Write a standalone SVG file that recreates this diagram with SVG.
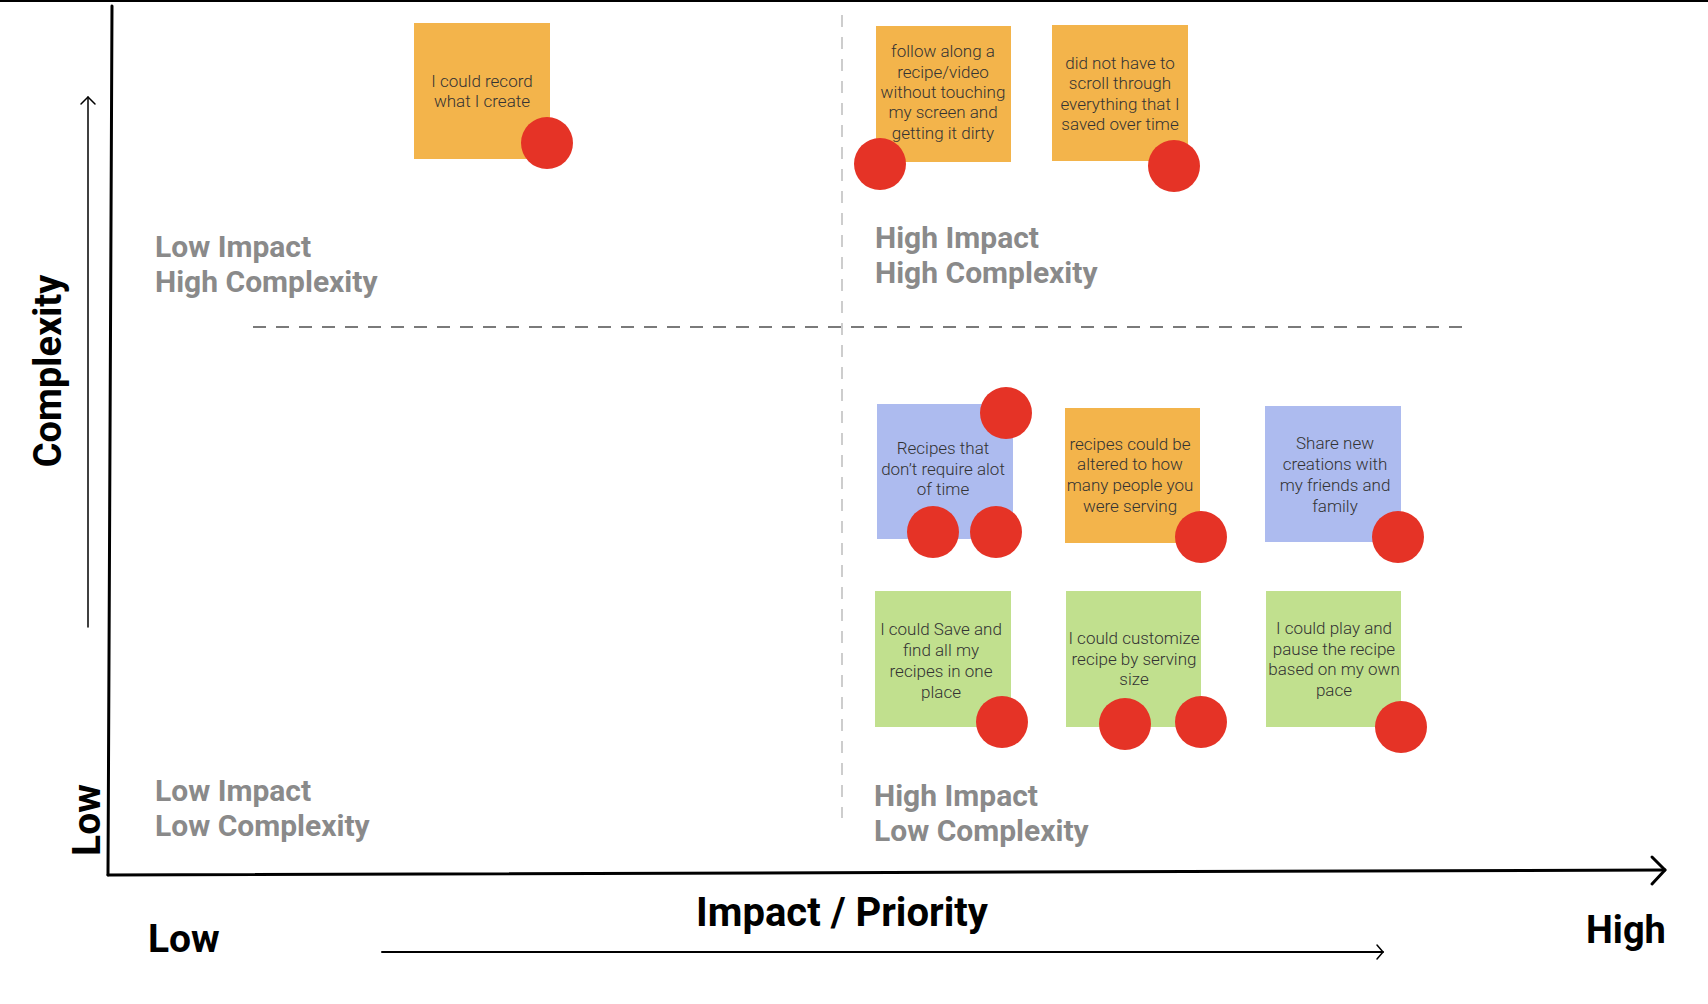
<svg xmlns="http://www.w3.org/2000/svg" width="1708" height="1004" viewBox="0 0 1708 1004">
<style>
.axis{stroke:#000;fill:none;stroke-linecap:round;stroke-linejoin:round}
.quad{font-family:Roboto,"Liberation Sans",sans-serif;font-weight:700;font-size:30px;fill:#8a8a8a}
.big{font-family:Roboto,"Liberation Sans",sans-serif;font-weight:700;fill:#000}
.note text{font-family:Roboto,"Liberation Sans",sans-serif;font-weight:300;font-size:17px;fill:#333;text-anchor:middle}
.orange{fill:#f3b44b}
.blue{fill:#adbbef}
.green{fill:#c1e08e}
.dot{fill:#e53326}
</style>
<rect width="1708" height="1004" fill="#fff"/>
<line x1="0" y1="1" x2="1708" y2="1" stroke="#000" stroke-width="2"/>

<g id="axes">
  <line class="axis" x1="112" y1="6" x2="108" y2="875" stroke-width="3"/>
  <line class="axis" x1="108" y1="875" x2="1665" y2="870" stroke-width="3"/>
  <polyline class="axis" points="1652,857 1665,870 1652,884" stroke-width="3"/>
  <line class="axis" x1="88" y1="627" x2="88" y2="97" stroke-width="1.5"/>
  <polyline class="axis" points="81,104 88,97 95,104" stroke-width="1.5"/>
  <line class="axis" x1="382" y1="952" x2="1383" y2="952" stroke-width="2"/>
  <polyline class="axis" points="1377,945 1383,952 1377,959" stroke-width="1.5"/>
</g>

<g id="dividers">
  <line x1="253" y1="327" x2="1467" y2="327" stroke="#7a7a7a" stroke-width="2" stroke-dasharray="13 10"/>
  <line x1="842" y1="15" x2="842" y2="818" stroke="#bdbdbd" stroke-width="1.5" stroke-dasharray="12 10"/>
</g>

<g id="labels">
  <text class="big" font-size="38" transform="translate(61,371) rotate(-90)" text-anchor="middle">Complexity</text>
  <text class="big" font-size="39" transform="translate(100,820) rotate(-90)" text-anchor="middle">Low</text>
  <text class="big" font-size="40" x="842" y="926" text-anchor="middle">Impact / Priority</text>
  <text class="big" font-size="39" x="148" y="952">Low</text>
  <text class="big" font-size="38" x="1586" y="943">High</text>
  <text class="quad" x="155"><tspan x="155" y="257">Low Impact</tspan><tspan x="155" y="292">High Complexity</tspan></text>
  <text class="quad" x="875"><tspan x="875" y="248">High Impact</tspan><tspan x="875" y="283">High Complexity</tspan></text>
  <text class="quad" x="155"><tspan x="155" y="801">Low Impact</tspan><tspan x="155" y="836">Low Complexity</tspan></text>
  <text class="quad" x="874"><tspan x="874" y="806">High Impact</tspan><tspan x="874" y="841">Low Complexity</tspan></text>
</g>

<g id="note-record" class="note">
  <rect class="orange" x="414" y="23" width="136" height="136"/>
  <text><tspan x="482" y="87">I could record</tspan><tspan x="482" y="107">what I create</tspan></text>
  <circle class="dot" cx="547" cy="143" r="26"/>
</g>

<g id="note-follow" class="note">
  <rect class="orange" x="876" y="26" width="135" height="136"/>
  <text><tspan x="943" y="57">follow along a</tspan><tspan x="943" y="78">recipe/video</tspan><tspan x="943" y="98">without touching</tspan><tspan x="943" y="118">my screen and</tspan><tspan x="943" y="139">getting it dirty</tspan></text>
  <circle class="dot" cx="880" cy="164" r="26"/>
</g>

<g id="note-scroll" class="note">
  <rect class="orange" x="1052" y="25" width="136" height="136"/>
  <text><tspan x="1120" y="69">did not have to</tspan><tspan x="1120" y="89">scroll through</tspan><tspan x="1120" y="110">everything that I</tspan><tspan x="1120" y="130">saved over time</tspan></text>
  <circle class="dot" cx="1174" cy="166" r="26"/>
</g>

<g id="note-time" class="note">
  <rect class="blue" x="877" y="404" width="136" height="135"/>
  <text><tspan x="943" y="454">Recipes that</tspan><tspan x="943" y="475">don’t require alot</tspan><tspan x="943" y="495">of time</tspan></text>
  <circle class="dot" cx="1006" cy="413" r="26"/>
  <circle class="dot" cx="933" cy="532" r="26"/>
  <circle class="dot" cx="996" cy="532" r="26"/>
</g>

<g id="note-altered" class="note">
  <rect class="orange" x="1065" y="408" width="135" height="135"/>
  <text><tspan x="1130" y="450">recipes could be</tspan><tspan x="1130" y="470">altered to how</tspan><tspan x="1130" y="491">many people you</tspan><tspan x="1130" y="512">were serving</tspan></text>
  <circle class="dot" cx="1201" cy="537" r="26"/>
</g>

<g id="note-share" class="note">
  <rect class="blue" x="1265" y="406" width="136" height="136"/>
  <text><tspan x="1335" y="449">Share new</tspan><tspan x="1335" y="470">creations with</tspan><tspan x="1335" y="491">my friends and</tspan><tspan x="1335" y="512">family</tspan></text>
  <circle class="dot" cx="1398" cy="537" r="26"/>
</g>

<g id="note-save" class="note">
  <rect class="green" x="875" y="591" width="136" height="136"/>
  <text><tspan x="941" y="635">I could Save and</tspan><tspan x="941" y="656">find all my</tspan><tspan x="941" y="677">recipes in one</tspan><tspan x="941" y="698">place</tspan></text>
  <circle class="dot" cx="1002" cy="722" r="26"/>
</g>

<g id="note-customize" class="note">
  <rect class="green" x="1066" y="591" width="135" height="136"/>
  <text><tspan x="1134" y="644">I could customize</tspan><tspan x="1134" y="665">recipe by serving</tspan><tspan x="1134" y="685">size</tspan></text>
  <circle class="dot" cx="1125" cy="724" r="26"/>
  <circle class="dot" cx="1201" cy="722" r="26"/>
</g>

<g id="note-play" class="note">
  <rect class="green" x="1266" y="591" width="135" height="136"/>
  <text><tspan x="1334" y="634">I could play and</tspan><tspan x="1334" y="655">pause the recipe</tspan><tspan x="1334" y="675">based on my own</tspan><tspan x="1334" y="696">pace</tspan></text>
  <circle class="dot" cx="1401" cy="727" r="26"/>
</g>
</svg>
